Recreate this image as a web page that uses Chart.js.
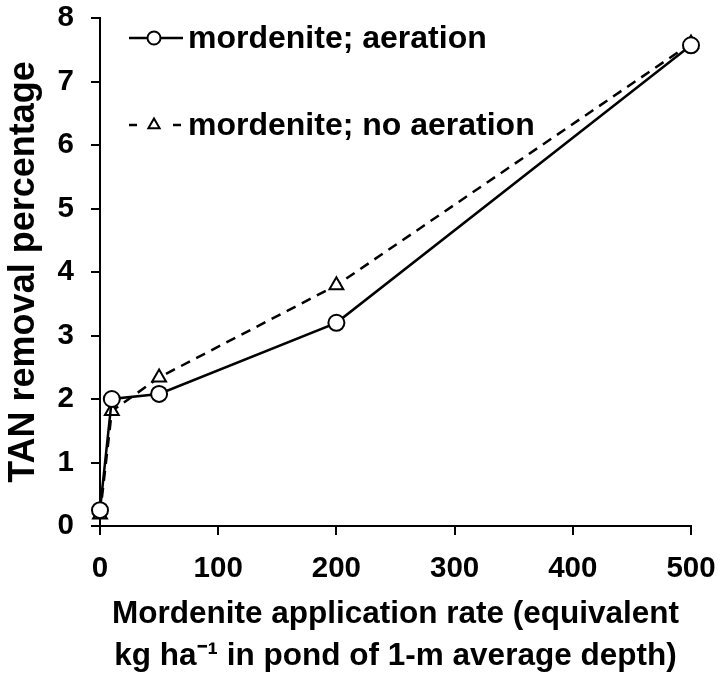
<!DOCTYPE html>
<html>
<head>
<meta charset="utf-8">
<script src="https://cdn.jsdelivr.net/npm/chart.js@4/dist/chart.umd.min.js"></script>
<style>
  html, body { margin: 0; padding: 0; background: #fff; }
  #wrap { width: 722px; height: 677px; }
</style>
</head>
<body>
<div id="wrap"><canvas id="lineChart"></canvas></div>
<script>
'use strict'

// application rate (kg/ha)
const rates = [0, 10, 50, 200, 500];
// TAN removal percentage
const aeration = [0.25, 2.0, 2.08, 3.2, 7.57];
const noAeration = [0.18, 1.81, 2.34, 3.79, 7.6];

const xTicks = [0, 100, 200, 300, 400, 500];
const yTicks = [0, 1, 2, 3, 4, 5, 6, 7, 8];

const seriesNames = ['mordenite; aeration', 'mordenite; no aeration'];
const xTitle = ['Mordenite application rate (equivalent', 'kg ha\u207B\u00B9 in pond of 1-m average depth)'];
const yTitle = 'TAN removal percentage';

const FONT = '"Liberation Sans", Arial, sans-serif';

function toPoints(ys) {
  return rates.map(function(x, i) { return { x: x, y: ys[i] }; });
}

// legend drawn inside the plot, top left
const insideLegend = {
  id: 'insideLegend',
  afterDatasetsDraw: function(chart) {
    const ctx = chart.ctx;
    const rows = [
      { y: 38, ds: chart.data.datasets[0], dash: [] },
      { y: 125, ds: chart.data.datasets[1], dash: [8, 36] }
    ];
    ctx.save();
    rows.forEach(function(r) {
      ctx.strokeStyle = '#000';
      ctx.lineWidth = 2.5;
      ctx.setLineDash(r.dash);
      ctx.beginPath();
      ctx.moveTo(129, r.y);
      ctx.lineTo(183, r.y);
      ctx.stroke();
      ctx.setLineDash([]);
      ctx.fillStyle = '#fff';
      ctx.lineWidth = 2;
      Chart.helpers.drawPoint(ctx, {
        pointStyle: r.ds.pointStyle,
        radius: 6.5,
        borderWidth: 2
      }, 154, r.y);
      ctx.fillStyle = '#000';
      ctx.font = 'bold 32px ' + FONT;
      ctx.textBaseline = 'middle';
      ctx.fillText(r.ds.label, 188, r.y + 1);
    });
    ctx.restore();
  }
};

const ctx = document.getElementById('lineChart').getContext('2d');

const pointCommon = {
  pointRadius: 8,
  pointHoverRadius: 8,
  pointBorderWidth: 2,
  pointBackgroundColor: '#fff',
  pointBorderColor: '#000',
  borderColor: '#000',
  borderWidth: 2.5,
  showLine: true,
  fill: false,
  clip: false
};

const lineChart = new Chart(ctx, {
  type: 'scatter',
  data: {
    datasets: [
      Object.assign({
        label: seriesNames[0],
        data: toPoints(aeration),
        pointStyle: 'circle',
        order: 1
      }, pointCommon),
      Object.assign({
        label: seriesNames[1],
        data: toPoints(noAeration),
        pointStyle: 'triangle',
        borderDash: [10, 7],
        order: 2
      }, pointCommon)
    ]
  },
  options: {
    responsive: true,
    maintainAspectRatio: false,
    animation: false,
    layout: {
      padding: { top: 18, right: 31, left: 0, bottom: 0 }
    },
    plugins: {
      legend: { display: false },
      tooltip: { enabled: false }
    },
    scales: {
      x: {
        type: 'linear',
        min: 0,
        max: 500,
        afterBuildTicks: function(scale) {
          scale.ticks = xTicks.map(function(v) { return { value: v }; });
        },
        afterFit: function(scale) {
          scale.height = 151;
          scale.paddingLeft = 0;
          scale.paddingRight = 0;
        },
        border: { display: true, color: '#000', width: 2 },
        grid: {
          drawOnChartArea: false,
          drawTicks: true,
          tickLength: 9,
          color: '#000',
          lineWidth: 2
        },
        ticks: {
          color: '#000',
          padding: 16,
          maxRotation: 0,
          autoSkip: false,
          font: { family: FONT, size: 29.5, weight: 'bold' }
        },
        title: {
          display: true,
          text: xTitle,
          color: '#000',
          padding: { top: 0, bottom: 0 },
          font: { family: FONT, size: 31.5, weight: 'bold', lineHeight: 1.33 }
        }
      },
      y: {
        type: 'linear',
        min: 0,
        max: 8,
        afterBuildTicks: function(scale) {
          scale.ticks = yTicks.map(function(v) { return { value: v }; });
        },
        afterFit: function(scale) {
          scale.width = 100;
          scale.paddingTop = 0;
          scale.paddingBottom = 0;
        },
        border: { display: true, color: '#000', width: 2 },
        grid: {
          drawOnChartArea: false,
          drawTicks: true,
          tickLength: 9,
          color: '#000',
          lineWidth: 2
        },
        ticks: {
          color: '#000',
          padding: 17,
          font: { family: FONT, size: 29.5, weight: 'bold' }
        },
        title: {
          display: true,
          text: yTitle,
          color: '#000',
          padding: { top: 2, bottom: 0 },
          font: { family: FONT, size: 36, weight: 'bold', lineHeight: 1.25 }
        }
      }
    }
  },
  plugins: [insideLegend]
});
</script>
</body>
</html>
